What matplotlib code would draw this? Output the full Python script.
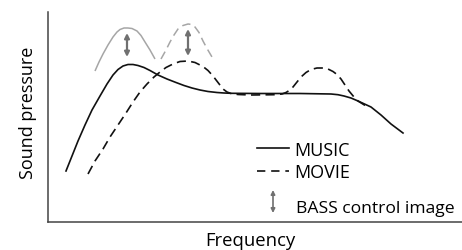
import matplotlib
matplotlib.use("Agg")
import matplotlib.pyplot as plt

plt.rcParams['font.family'] = ['Open Sans', 'DejaVu Sans']

# Chart units: frequency (0..414), sound pressure (0..210)
music_x = [18, 24, 30, 37, 44, 52, 59, 65, 70, 75, 80, 85, 90, 96, 102, 110, 119, 128, 136, 144, 152, 160, 169, 176, 183, 212, 252, 283, 290, 296, 303, 310, 323, 333, 343, 355]
music_y = [51, 66, 81, 97, 112, 126, 138, 147, 152.5, 156, 157.5, 157.5, 156.5, 154.5, 151.5, 147, 143, 139.5, 136.5, 134, 132, 130.5, 129.5, 129, 128.7, 128.5, 128.5, 128, 127.3, 126, 124, 121, 115, 107, 98, 89]

movie_x = [40, 47, 55, 62, 70, 78, 85, 92, 99, 106, 112, 118, 125, 132, 140, 147, 155, 160, 165, 170, 175, 179, 183, 190, 203, 226, 234, 238, 242, 245, 249, 253, 258, 263, 269, 275, 280, 285, 289, 293, 297, 301, 306, 310, 318]
movie_y = [48, 61, 73, 85, 97, 109, 120, 130, 138, 145, 150, 154.5, 158, 160.5, 161, 159.5, 155.5, 151.5, 146, 139.5, 133, 130, 128.5, 127.5, 127, 127.3, 128, 129.5, 132, 135, 140, 145, 149.5, 152.5, 154, 154, 153, 150.5, 147.5, 143, 137, 131, 125, 121, 116]

music_boost_x = [47, 51, 55, 60, 65, 69, 72, 76, 80, 84, 89, 93, 97, 102, 107]
music_boost_y = [151, 160, 168, 177, 185, 190, 192.5, 194, 194, 193.5, 191, 186.5, 180, 172, 163]

movie_boost_x = [113, 118, 122, 126, 130, 135, 140, 144, 147, 151, 155, 159, 164]
movie_boost_y = [163, 172, 180, 187, 193, 196.5, 198, 197.5, 195, 189.5, 181, 173.5, 165]

# BASS control arrows: (x, low, high)
arrow_x = [79, 140]
arrow_low = [165, 166]
arrow_high = [189, 193]

legend_labels = ["MUSIC", "MOVIE", "BASS control image"]

W, H = 462, 251
fig = plt.figure(figsize=(W / 100, H / 100), dpi=100)
ax = fig.add_axes([48 / W, 28 / H, 414 / W, 210 / H])
ax.set_xlim(0, 414)
ax.set_ylim(0, 210)
for s in ['top', 'right']:
    ax.spines[s].set_visible(False)
for s in ['left', 'bottom']:
    ax.spines[s].set_color('#444444')
    ax.spines[s].set_linewidth(1.1)
ax.set_xticks([])
ax.set_yticks([])

black = '#111111'
light = '#a6a6a6'
agray = '#707070'
dash = (0, (5.5, 3.2))

ax.plot(music_boost_x, music_boost_y, color=light, lw=1.1, solid_capstyle='butt')
ax.plot(movie_boost_x, movie_boost_y, color=light, lw=1.1, linestyle=dash)
ax.plot(music_x, music_y, color=black, lw=1.2)
ax.plot(movie_x, movie_y, color=black, lw=1.2, linestyle=dash)

for xv, lo, hi in zip(arrow_x, arrow_low, arrow_high):
    ax.annotate('', xy=(xv, hi), xytext=(xv, lo),
                arrowprops=dict(arrowstyle='<|-|>', color=agray, lw=1.6,
                                mutation_scale=7, shrinkA=0, shrinkB=0))

fs = 13
# legend
ax.plot([209, 241], [74, 74], color=black, lw=1.2)
ax.text(246, 67, legend_labels[0], fontsize=fs, va='baseline', ha='left', color='black')
ax.plot([209, 241], [51, 51], color=black, lw=1.2, linestyle=(0, (5, 3.5)))
ax.text(246, 45, legend_labels[1], fontsize=fs, va='baseline', ha='left', color='black')
ax.annotate('', xy=(225, 32), xytext=(225, 9),
            arrowprops=dict(arrowstyle='<|-|>', color=agray, lw=1.2,
                            mutation_scale=6, shrinkA=0, shrinkB=0))
ax.text(248, 10, legend_labels[2], fontsize=12.6, va='baseline', ha='left', color='black')

fig.text(250 / W, 1 - 246 / H, "Frequency", fontsize=13.3, ha='center', va='baseline')
fig.text(33 / W, 1 - 113 / H, "Sound pressure", fontsize=13, ha='center', va='baseline',
         rotation=90, rotation_mode='anchor')

fig.savefig('out.png', dpi=100)
